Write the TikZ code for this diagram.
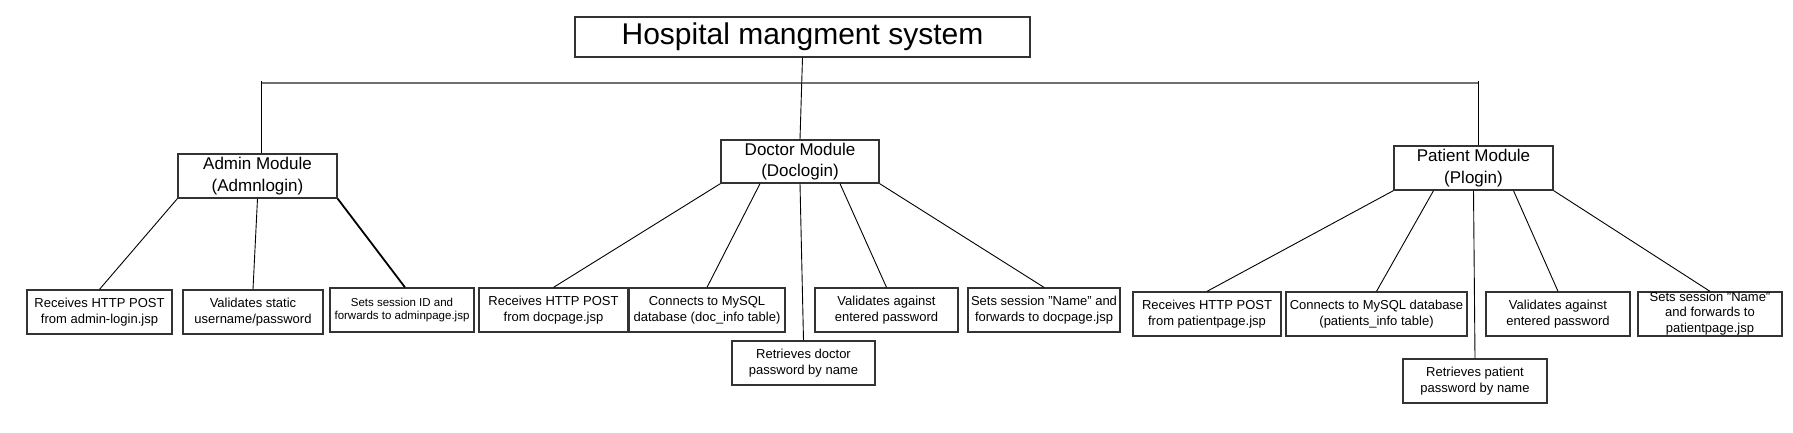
\documentclass[tikz,border=0pt]{standalone}
\usepackage{fontspec}
\setmainfont{Liberation Sans}
\usetikzlibrary{calc}
\definecolor{boxc}{HTML}{333333}
\definecolor{busc}{HTML}{707070}
\begin{document}
\begin{tikzpicture}[x=1pt,y=-1pt,
  box/.style={draw=boxc, line width=1.3pt, inner sep=0pt, align=center, minimum height=44pt},
  modbox/.style={box, font=\fontsize{17}{21.5}\selectfont},
  leaf/.style={box, font=\fontsize{13}{16}\selectfont},
  conn/.style={draw=black, line width=0.9pt},
  lbl/.style={inner sep=0pt, align=center, font=\fontsize{13}{15.5}\selectfont}]
\useasboundingbox (0,0) rectangle (1793,432);
\fill[white] (0,0) rectangle (1793,432);

% title
\node[box, minimum width=455pt, minimum height=40pt, font=\fontsize{30}{36}\selectfont] (title) at (802.5,37) {Hospital mangment system};

% modules
\node[modbox, minimum width=159pt] (adm) at (257.5,176) {Admin Module\\(Admnlogin)};
\node[modbox, minimum width=158pt, minimum height=43pt] (doc) at (800,161.5) {Doctor Module\\(Doclogin)};
\node[modbox, minimum width=159pt] (pat) at (1473.5,168) {Patient Module\\(Plogin)};

% bus
\coordinate (busL) at (261,83);
\coordinate (busR) at (1478,83);
\draw[draw=busc, line width=2pt] (busL) -- (busR);
\draw[conn] (title.south) -- (doc.north);
\draw[conn] ($(busL)+(0,-2)$) -- (busL |- adm.north);
\draw[conn] ($(busR)+(0,-2)$) -- (busR |- pat.north);

% admin leaves
\node[leaf, minimum width=145pt] (a1) at (99.5,312) {Receives HTTP POST\\from admin-login.jsp};
\node[leaf, minimum width=140pt] (a2) at (253,312) {Validates static\\username/password};
\node[leaf, minimum width=144pt, font=\fontsize{11.5}{13.5}\selectfont] (a3) at (402,310) {Sets session ID and\\forwards to adminpage.jsp};

% doctor leaves
\node[leaf, minimum width=149pt] (d1) at (553.5,310) {Receives HTTP POST\\from docpage.jsp};
\node[leaf, minimum width=156pt] (d2) at (707,310) {Connects to MySQL\\database (doc\_info table)};
\node[leaf, minimum width=143pt] (d3) at (803.5,363) {Retrieves doctor\\password by name};
\node[leaf, minimum width=143pt] (d4) at (886.5,310) {Validates against\\entered password};
\node[leaf, minimum width=152pt] (d5) at (1044,310) {Sets session "Name" and\\forwards to docpage.jsp};

% patient leaves
\node[leaf, minimum width=148pt] (p1) at (1207,314) {Receives HTTP POST\\from patientpage.jsp};
\node[leaf, minimum width=181pt] (p2) at (1376.5,314) {Connects to MySQL database\\(patients\_info table)};
\node[leaf, minimum width=144pt] (p3) at (1475,381) {Retrieves patient\\password by name};
\node[leaf, minimum width=144pt] (p4) at (1558,314) {Validates against\\entered password};
\node[leaf, minimum width=144pt] (p5) at (1710,314) {};
\node[lbl] (p5t) at (1710,313.5) {Sets session "Name"\\and forwards to\\patientpage.jsp};

% admin connectors
\draw[conn] (adm.south west) -- (a1.north);
\draw[conn] (adm.south) -- (a2.north);
\draw[conn, line width=1.8pt] (adm.south east) -- ($(a3.north)+(3,0)$);

% doctor connectors
\draw[conn] (doc.south west) -- (d1.north);
\draw[conn] ($(doc.south)+(-40,0)$) -- (d2.north);
\draw[conn] (doc.south) -- (d3.north);
\draw[conn] ($(doc.south)+(40,0)$) -- (d4.north);
\draw[conn] (doc.south east) -- (d5.north);

% patient connectors
\draw[conn] (pat.south west) -- (p1.north);
\draw[conn] ($(pat.south)+(-40,0)$) -- (p2.north);
\draw[conn] (pat.south) -- (p3.north);
\draw[conn] ($(pat.south)+(40,0)$) -- (p4.north);
\draw[conn] (pat.south east) -- (p5.north);
\end{tikzpicture}
\end{document}
